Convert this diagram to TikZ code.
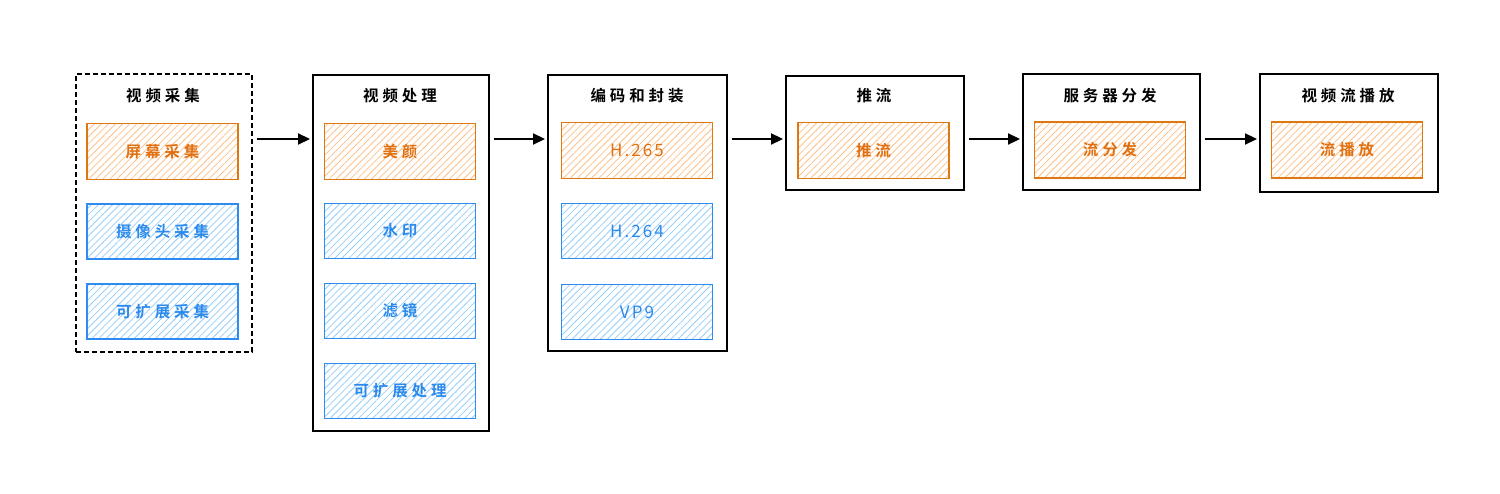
\documentclass[tikz,border=0pt]{standalone}
\usepackage{fontspec}
\newfontfamily\cjk{Noto Sans CJK SC}[BoldFont={Noto Sans CJK SC Bold}, LetterSpace=25]
\newfontfamily\latf{Noto Sans CJK SC}[LetterSpace=12]
\usetikzlibrary{arrows.meta,patterns.meta}
\definecolor{ostroke}{HTML}{E07812}
\definecolor{ofill}{HTML}{FFC08A}
\definecolor{otext}{HTML}{E07010}
\definecolor{bstroke}{HTML}{2E8CF0}
\definecolor{bfill}{HTML}{96CEFA}
\definecolor{btext}{HTML}{2C8AEC}
\tikzset{
  outerbox/.style={draw=black, line width=1.8pt, anchor=north west, inner sep=0pt, minimum width=#1},
  dashbox/.style={outerbox=#1, line width=1.6pt, dash pattern=on 5pt off 3pt},
  ttl/.style={font=\cjk\bfseries\fontsize{15.5}{18}\selectfont, text=black},
  obox/.style={draw=ostroke, line width=1.8pt, minimum width=151pt, minimum height=56pt,
    pattern={Lines[angle=45,distance=5pt,line width=0.8pt]}, pattern color=ofill,
    text=otext, font=\cjk\bfseries\fontsize{15.5}{18}\selectfont},
  bbox/.style={draw=bstroke, line width=1.8pt, minimum width=151pt, minimum height=55pt,
    pattern={Lines[angle=45,distance=5pt,line width=0.8pt]}, pattern color=bfill,
    text=btext, font=\cjk\bfseries\fontsize{15.5}{18}\selectfont},
  lat/.style={font=\latf\fontsize{17}{19}\selectfont},
  arr/.style={draw=black, line width=2.2pt, -{Triangle[length=12pt,width=11pt]}, shorten <=4pt, shorten >=2pt}
}
\begin{document}
\begin{tikzpicture}[x=1pt,y=-1pt]
\useasboundingbox (0,0) rectangle (1500,494);
% column 1
\node (c1) [dashbox=176pt, minimum height=278pt] at (75,73) {};
\node (c1t) [ttl] at (163,96) {视频采集};
\node (c1a) [obox] at (162.5,151.5) {屏幕采集};
\node (c1b) [bbox] at (162.5,231.5) {摄像头采集};
\node (c1c) [bbox] at (162.5,311.5) {可扩展采集};
% column 2
\node (c2) [outerbox=176pt, minimum height=356pt] at (312,74) {};
\node (c2t) [ttl] at (400,96) {视频处理};
\node (c2a) [obox] at (400,151.5) {美颜};
\node (c2b) [bbox] at (400,231) {水印};
\node (c2c) [bbox] at (400,311) {滤镜};
\node (c2d) [bbox] at (400,391) {可扩展处理};
% column 3
\node (c3) [outerbox=179pt, minimum height=276pt] at (547,74) {};
\node (c3t) [ttl] at (637,96) {编码和封装};
\node (c3a) [obox, lat] at (637,150.5) {H.265};
\node (c3b) [bbox, lat] at (637,231) {H.264};
\node (c3c) [bbox, lat] at (637,312) {VP9};
% column 4
\node (c4) [outerbox=178pt, minimum height=114pt] at (785,75) {};
\node (c4t) [ttl] at (874,96) {推流};
\node (c4a) [obox] at (873.5,150.5) {推流};
% column 5
\node (c5) [outerbox=177pt, minimum height=116pt] at (1022,73) {};
\node (c5t) [ttl] at (1110,96) {服务器分发};
\node (c5a) [obox] at (1110,150) {流分发};
% column 6
\node (c6) [outerbox=178pt, minimum height=118pt] at (1259,73) {};
\node (c6t) [ttl] at (1348,96) {视频流播放};
\node (c6a) [obox] at (1347,150) {流播放};
% arrows
\draw[arr] ([yshift=-66pt]c1.north east) -- ([yshift=-65pt]c2.north west);
\draw[arr] ([yshift=-65pt]c2.north east) -- ([yshift=-65pt]c3.north west);
\draw[arr] ([yshift=-65pt]c3.north east) -- ([yshift=-64pt]c4.north west);
\draw[arr] ([yshift=-64pt]c4.north east) -- ([yshift=-66pt]c5.north west);
\draw[arr] ([yshift=-66pt]c5.north east) -- ([yshift=-66pt]c6.north west);
\end{tikzpicture}
\end{document}
